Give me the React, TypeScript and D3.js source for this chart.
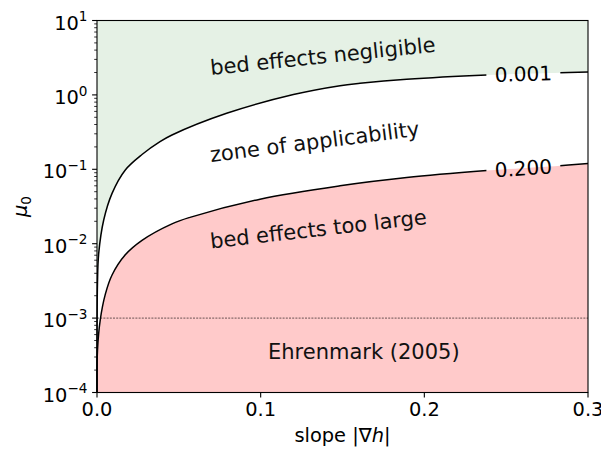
import React, { useEffect, useRef } from 'react'
import * as d3 from 'd3'

const slopeTicks = [0.0, 0.1, 0.2, 0.3]
const muExponents = [-4, -3, -2, -1, 0, 1]

// contour 0.001 (upper)
const upperSlope = [0, 0.0003, 0.00104, 0.0041, 0.0092, 0.0173, 0.0275, 0.0385, 0.0458, 0.0792, 0.12, 0.1485, 0.1607, 0.1892, 0.2381, 0.2829, 0.3]
const upperMu = [0.0001, 0.003, 0.0074, 0.0208, 0.0475, 0.098, 0.158, 0.235, 0.289, 0.566, 1.01, 1.33, 1.43, 1.62, 1.85, 1.99, 2.03]

// contour 0.200 (lower)
const lowerSlope = [0, 0.0003, 0.002, 0.0051, 0.0092, 0.0173, 0.0275, 0.0458, 0.0568, 0.0996, 0.1485, 0.1892, 0.2381, 0.2829, 0.3]
const lowerMu = [0.0001, 0.00037, 0.00095, 0.0021, 0.0038, 0.0071, 0.0111, 0.0185, 0.0226, 0.0397, 0.06, 0.0775, 0.096, 0.112, 0.12]

const contourLabels = ['0.001', '0.200']
const ehrenmarkMu = 0.001

const regionTexts = [
  {text: 'bed effects negligible', slope: 0.0696, mu: 1.85, angle: -5.9},
  {text: 'zone of applicability', slope: 0.0696, mu: 0.125, angle: -7.2},
  {text: 'bed effects too large', slope: 0.0696, mu: 0.0086, angle: -6.5},
  {text: 'Ehrenmark (2005)', slope: 0.1045, mu: 0.00028, angle: 0},
]

const FONT = 'DejaVu Sans, sans-serif'

export default function App() {
  const ref = useRef<SVGSVGElement>(null)

  useEffect(() => {
    const svg = d3.select(ref.current)
    svg.selectAll('*').remove()

    const left = 97, right = 588, top = 20.5, bottom = 392.5
    const x = d3.scaleLinear().domain([0, 0.3]).range([left, right])
    const y = d3.scaleLog().domain([1e-4, 1e1]).range([bottom, top])

    const upper = upperSlope.map((s, i) => [s, upperMu[i]] as [number, number])
    const lower = lowerSlope.map((s, i) => [s, lowerMu[i]] as [number, number])

    const curve = d3.curveCatmullRom.alpha(0.5)
    const areaTop = d3.area<[number, number]>()
      .x(d => x(d[0])).y0(top).y1(d => y(d[1])).curve(curve)
    const areaBottom = d3.area<[number, number]>()
      .x(d => x(d[0])).y0(bottom).y1(d => y(d[1])).curve(curve)
    const line = d3.line<[number, number]>()
      .x(d => x(d[0])).y(d => y(d[1])).curve(curve)

    svg.append('path').attr('d', areaTop(upper)).attr('fill', '#e5f1e5')
    svg.append('path').attr('d', areaBottom(lower)).attr('fill', '#ffcaca')

    // Ehrenmark line
    svg.append('line')
      .attr('x1', left).attr('x2', right)
      .attr('y1', y(ehrenmarkMu)).attr('y2', y(ehrenmarkMu))
      .attr('stroke', '#000').attr('stroke-width', 0.6)
      .attr('stroke-dasharray', '2,1.2')

    // contour lines with inline labels
    const defs = svg.append('defs')
    const labelSlope = 0.2605
    const interp = (pts: [number, number][], s: number) => {
      const i = d3.bisector((d: [number, number]) => d[0]).right(pts, s)
      const a = pts[i - 1], b = pts[i]
      const t = (s - a[0]) / (b[0] - a[0])
      return Math.pow(10, Math.log10(a[1]) + t * (Math.log10(b[1]) - Math.log10(a[1])))
    }
    ;[upper, lower].forEach((pts, k) => {
      const cx = x(labelSlope)
      const cy = y(interp(pts, labelSlope))
      const dx = x(labelSlope + 0.02) - x(labelSlope - 0.02)
      const dy = y(interp(pts, labelSlope + 0.02)) - y(interp(pts, labelSlope - 0.02))
      const ang = Math.atan2(dy, dx) * 180 / Math.PI
      const mask = defs.append('mask').attr('id', `gap-${k}`)
      mask.append('rect').attr('x', 0).attr('y', 0).attr('width', 601).attr('height', 450).attr('fill', '#fff')
      mask.append('rect')
        .attr('x', -37).attr('y', -12).attr('width', 74).attr('height', 24)
        .attr('transform', `translate(${cx},${cy}) rotate(${ang})`)
        .attr('fill', '#000')
      svg.append('path').attr('d', line(pts))
        .attr('fill', 'none').attr('stroke', '#000').attr('stroke-width', 1.5)
        .attr('mask', `url(#gap-${k})`)
      svg.append('text')
        .attr('transform', `translate(${cx},${cy}) rotate(${ang})`)
        .attr('text-anchor', 'middle').attr('dy', '0.36em')
        .attr('font-family', FONT).attr('font-size', 20)
        .text(contourLabels[k])
    })

    // region annotations
    svg.append('g').selectAll('text')
      .data(regionTexts)
      .enter()
      .append('text')
      .attr('transform', d => `translate(${x(d.slope)},${y(d.mu)}) rotate(${d.angle})`)
      .attr('font-family', FONT).attr('font-size', 21).attr('fill', '#111')
      .text(d => d.text)

    // frame
    svg.append('rect')
      .attr('x', left).attr('y', top).attr('width', right - left).attr('height', bottom - top)
      .attr('fill', 'none').attr('stroke', '#000').attr('stroke-width', 1.1)

    // x ticks
    const xg = svg.append('g')
    slopeTicks.forEach(t => {
      xg.append('line').attr('x1', x(t)).attr('x2', x(t)).attr('y1', bottom).attr('y2', bottom + 4.9)
        .attr('stroke', '#000').attr('stroke-width', 1.1)
      xg.append('text').attr('x', x(t)).attr('y', 415.5).attr('text-anchor', 'middle')
        .attr('font-family', FONT).attr('font-size', 19.4).text(t.toFixed(1))
    })

    // y ticks (log)
    const yg = svg.append('g')
    muExponents.forEach(e => {
      const py = y(Math.pow(10, e))
      yg.append('line').attr('x1', left - 4.9).attr('x2', left).attr('y1', py).attr('y2', py)
        .attr('stroke', '#000').attr('stroke-width', 1.1)
      const txt = yg.append('text').attr('x', left - 9.5).attr('y', py + 9)
        .attr('text-anchor', 'end').attr('font-family', FONT).attr('font-size', 19.4)
      txt.append('tspan').text('10')
      txt.append('tspan').attr('dy', -8.3).attr('font-size', 13.6)
        .text(e < 0 ? `\u2212${-e}` : `${e}`)
      if (e < 1) {
        for (let m = 2; m <= 9; m++) {
          const my = y(m * Math.pow(10, e))
          yg.append('line').attr('x1', left - 2.8).attr('x2', left).attr('y1', my).attr('y2', my)
            .attr('stroke', '#000').attr('stroke-width', 0.8)
        }
      }
    })

    // axis labels
    const xl = svg.append('text').attr('x', (left + right) / 2).attr('y', 442)
      .attr('text-anchor', 'middle').attr('font-family', FONT).attr('font-size', 19.4)
    xl.append('tspan').text('slope |\u2207')
    xl.append('tspan').attr('font-style', 'italic').text('h')
    xl.append('tspan').text('|')

    const yl = svg.append('text')
      .attr('transform', `translate(27,${(top + bottom) / 2}) rotate(-90)`)
      .attr('text-anchor', 'middle').attr('font-family', FONT).attr('font-size', 19.4)
    yl.append('tspan').attr('font-style', 'italic').text('\u03bc')
    yl.append('tspan').attr('dy', 4).attr('font-size', 13.6).text('0')
  }, [])

  return (
    <svg ref={ref} width={601} height={450}
      style={{position: 'absolute', left: 0, top: 0, background: '#fff'}} />
  )
}
